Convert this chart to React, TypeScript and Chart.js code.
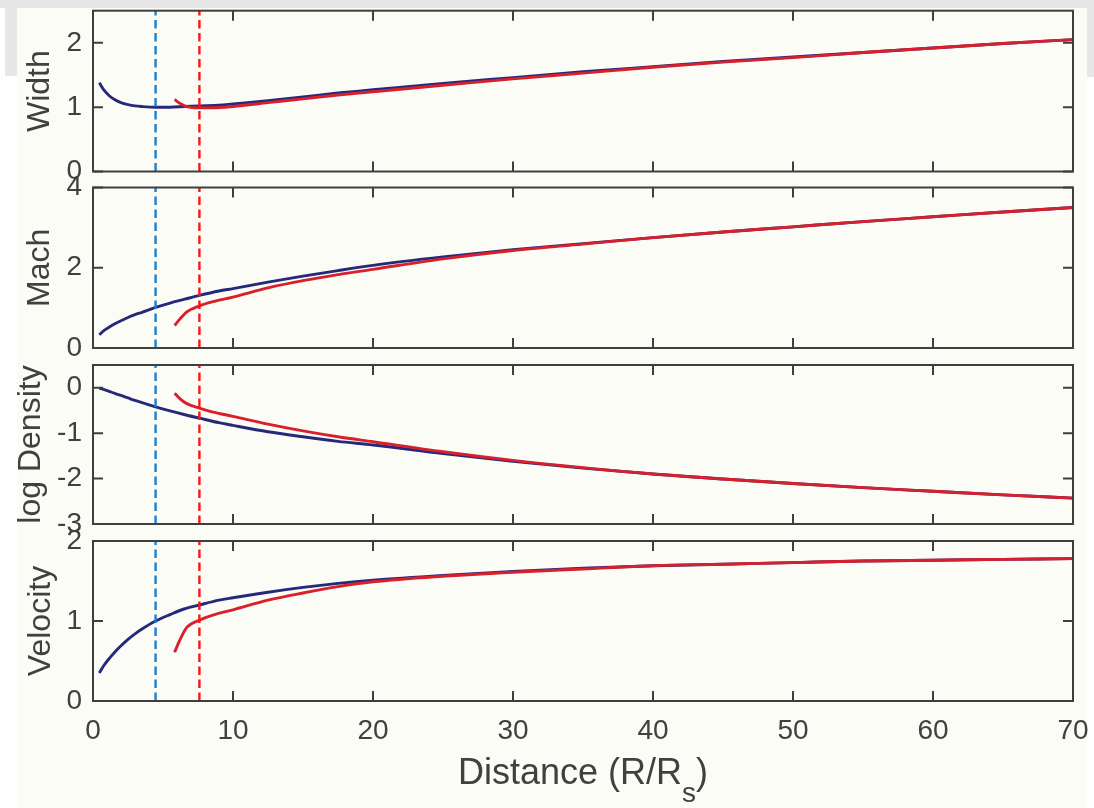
import React, { useEffect, useRef } from "react";
import { Chart, registerables } from "chart.js";

Chart.register(...registerables);

// ---------------- data ----------------
const blueX = [0.45, 0.8, 1.2, 1.6, 2, 2.5, 3, 3.5, 4.47, 5.5, 6.5, 7.6, 9, 10, 12.5, 15, 17.5, 20, 25, 30, 35, 40, 45, 50, 55, 60, 65, 70];
const redX = [5.83, 6.2, 6.7, 7.6, 8.5, 10, 12.5, 15, 17.5, 20, 25, 30, 35, 40, 45, 50, 55, 60, 65, 70];

const widthBlue = [1.38, 1.26, 1.17, 1.11, 1.07, 1.04, 1.02, 1.01, 1.0, 1.0, 1.01, 1.02, 1.03, 1.05, 1.1, 1.16, 1.22, 1.27, 1.37, 1.46, 1.55, 1.63, 1.71, 1.78, 1.85, 1.92, 1.99, 2.05];
const widthRed = [1.12, 1.06, 1.01, 0.99, 0.99, 1.01, 1.07, 1.13, 1.19, 1.24, 1.34, 1.44, 1.53, 1.62, 1.7, 1.77, 1.85, 1.92, 1.99, 2.05];

const machBlue = [0.33, 0.44, 0.53, 0.61, 0.68, 0.76, 0.83, 0.89, 1.01, 1.12, 1.21, 1.31, 1.42, 1.48, 1.64, 1.79, 1.93, 2.06, 2.27, 2.45, 2.6, 2.75, 2.89, 3.02, 3.15, 3.27, 3.39, 3.5];
const machRed = [0.56, 0.72, 0.9, 1.05, 1.15, 1.27, 1.5, 1.68, 1.83, 1.96, 2.22, 2.43, 2.59, 2.75, 2.89, 3.02, 3.15, 3.27, 3.39, 3.5];

const densityBlue = [-0.01, -0.04, -0.085, -0.13, -0.17, -0.225, -0.28, -0.33, -0.42, -0.51, -0.59, -0.67, -0.77, -0.83, -0.97, -1.08, -1.18, -1.26, -1.45, -1.62, -1.77, -1.9, -2.01, -2.11, -2.2, -2.28, -2.36, -2.43];
const densityRed = [-0.12, -0.24, -0.35, -0.45, -0.53, -0.63, -0.8, -0.95, -1.08, -1.19, -1.41, -1.6, -1.76, -1.9, -2.01, -2.11, -2.2, -2.28, -2.36, -2.43];

const velocityBlue = [0.35, 0.45, 0.54, 0.62, 0.69, 0.77, 0.84, 0.9, 1.0, 1.08, 1.15, 1.2, 1.26, 1.29, 1.36, 1.42, 1.47, 1.51, 1.57, 1.62, 1.66, 1.69, 1.71, 1.73, 1.75, 1.76, 1.77, 1.78];
const velocityRed = [0.61, 0.76, 0.92, 1.01, 1.07, 1.14, 1.26, 1.35, 1.43, 1.49, 1.56, 1.61, 1.65, 1.69, 1.71, 1.73, 1.75, 1.76, 1.77, 1.78];

const sonicBlueX = 4.47;
const sonicRedX = 7.6;

const xTicks = [0, 10, 20, 30, 40, 50, 60, 70];
const widthTicks = [0, 1, 2];
const machTicks = [0, 2, 4];
const densityTicks = [-3, -2, -1, 0];
const velocityTicks = [0, 1, 2];

const panelTitles = ["Width", "Mach", "log Density", "Velocity"];
const panelMins = [0, 0, -3, 0];
const panelMaxs = [2.5, 4, 0.5, 2];

// ---------------- style ----------------
const TEXT = "#404040";
const AXIS = "#3e3e3e";
const BLUE = "#25297b";
const RED = "#d8202d";
const BLUE_DASH = "#1a7fcf";
const RED_DASH = "#ff1414";
const FONT = "'Liberation Sans', Arial, Helvetica, sans-serif";
const W = 1094;
const PLOT_LEFT = 93;
const PLOT_RIGHT = 1073;

const panelTops = [10.7, 187.5, 365, 541];
const panelBottoms = [171.5, 348, 524, 701];
const titleOffsets = [21, 21, 12, 22];
const panelTicks = [widthTicks, machTicks, densityTicks, velocityTicks];

const boxPlugin = {
  id: "matlabBox",
  afterDatasetsDraw(chart: any) {
    const { ctx, chartArea: a, scales } = chart;
    const tl = 10;
    ctx.save();
    ctx.strokeStyle = AXIS;
    ctx.lineWidth = 2;
    ctx.beginPath();
    scales.x.ticks.forEach((t: any) => {
      const px = scales.x.getPixelForValue(t.value);
      if (px <= a.left + 1 || px >= a.right - 1) return;
      ctx.moveTo(px, a.bottom);
      ctx.lineTo(px, a.bottom - tl);
      ctx.moveTo(px, a.top);
      ctx.lineTo(px, a.top + tl);
    });
    scales.y.ticks.forEach((t: any) => {
      const py = scales.y.getPixelForValue(t.value);
      ctx.moveTo(a.left, py);
      ctx.lineTo(a.left + tl, py);
      ctx.moveTo(a.right, py);
      ctx.lineTo(a.right - tl, py);
    });
    ctx.stroke();
    ctx.strokeRect(a.left, a.top, a.right - a.left, a.bottom - a.top);
    ctx.restore();
  },
};

const seriesBlue = [widthBlue, machBlue, densityBlue, velocityBlue];
const seriesRed = [widthRed, machRed, densityRed, velocityRed];

function pts(xs: number[], ys: number[]) {
  return xs.map((x, i) => ({ x, y: ys[i] }));
}

function Panel({ idx }: { idx: number }) {
  const ref = useRef<HTMLCanvasElement | null>(null);
  const showX = idx === 3;
  const padTopBase = 30;
  const canvasTop = Math.floor(panelTops[idx]) - padTopBase;
  const padTop = panelTops[idx] - canvasTop;
  const plotH = panelBottoms[idx] - panelTops[idx];
  const xHeight = showX ? 60 : 0;
  const canvasH = Math.ceil(padTop + plotH + xHeight + 30);
  const padBottom = canvasH - (padTop + plotH) - xHeight;

  useEffect(() => {
    if (!ref.current) return;
    const min = panelMins[idx];
    const max = panelMaxs[idx];
    const yt = panelTicks[idx];
    const chart = new Chart(ref.current, {
      type: "line",
      data: {
        datasets: [
          {
            data: [{ x: sonicBlueX, y: min }, { x: sonicBlueX, y: max }],
            borderColor: BLUE_DASH,
            borderWidth: 2.4,
            borderDash: [8.5, 4.5],
            pointRadius: 0,
            order: 1,
          },
          {
            data: [{ x: sonicRedX, y: min }, { x: sonicRedX, y: max }],
            borderColor: RED_DASH,
            borderWidth: 2.4,
            borderDash: [8.5, 4.5],
            pointRadius: 0,
            order: 2,
          },
          {
            data: pts(blueX, seriesBlue[idx]),
            borderColor: BLUE,
            borderWidth: 2.9,
            pointRadius: 0,
            cubicInterpolationMode: "monotone",
            order: 4,
          },
          {
            data: pts(redX, seriesRed[idx]),
            borderColor: RED,
            borderWidth: 2.9,
            pointRadius: 0,
            cubicInterpolationMode: "monotone",
            order: 3,
          },
        ],
      } as any,
      options: {
        animation: false,
        responsive: false,
        events: [],
        layout: {
          padding: { left: 0, right: W - PLOT_RIGHT, top: padTop, bottom: padBottom },
        },
        plugins: { legend: { display: false }, tooltip: { enabled: false } },
        scales: {
          x: {
            type: "linear",
            min: xTicks[0],
            max: xTicks[xTicks.length - 1],
            afterBuildTicks: (s: any) => {
              s.ticks = xTicks.map((v) => ({ value: v }));
            },
            ticks: {
              display: showX,
              padding: 0,
              color: TEXT,
              font: { family: FONT, size: 28 },
            },
            grid: {
              display: true,
              color: "rgba(0,0,0,0)",
              drawOnChartArea: false,
              drawTicks: true,
              tickLength: 13,
            },
            border: { display: false },
            afterFit: (s: any) => {
              s.height = xHeight;
            },
          },
          y: {
            type: "linear",
            min,
            max,
            afterBuildTicks: (s: any) => {
              s.ticks = yt.map((v) => ({ value: v }));
            },
            ticks: {
              padding: 0,
              color: TEXT,
              font: { family: FONT, size: 28 },
            },
            grid: {
              display: true,
              color: "rgba(0,0,0,0)",
              drawOnChartArea: false,
              drawTicks: true,
              tickLength: 11,
            },
            border: { display: false },
            title: {
              display: true,
              text: panelTitles[idx],
              color: TEXT,
              font: { family: FONT, size: 32 },
              padding: { top: titleOffsets[idx], bottom: 0 },
            },
            afterFit: (s: any) => {
              s.width = PLOT_LEFT;
            },
          },
        },
      } as any,
      plugins: [boxPlugin],
    });
    return () => chart.destroy();
  }, []);

  return (
    <canvas
      ref={ref}
      width={W}
      height={canvasH}
      style={{ position: "absolute", left: 0, top: canvasTop, width: W, height: canvasH }}
    />
  );
}

export default function App() {
  return (
    <div style={{ position: "fixed", left: 0, top: 0, width: W, height: 808, background: "#ffffff", overflow: "hidden" }}>
      <div style={{ position: "absolute", left: 17, top: 8, width: 1070, height: 800, background: "#fcfcf6" }} />
      <div style={{ position: "absolute", left: 0, top: 0, width: W, height: 8, background: "#e7e7e7" }} />
      <div style={{ position: "absolute", left: 5, top: 8, width: 12, height: 68, background: "#e7e7e7" }} />
      <div style={{ position: "absolute", left: 1087, top: 8, width: 7, height: 69, background: "#e7e7e7" }} />
      {[0, 1, 2, 3].map((i) => (
        <Panel key={i} idx={i} />
      ))}
      <div
        style={{
          position: "absolute",
          left: PLOT_LEFT,
          width: PLOT_RIGHT - PLOT_LEFT,
          top: 753.5,
          textAlign: "center",
          fontFamily: FONT,
          fontSize: 36,
          lineHeight: "36px",
          color: TEXT,
          whiteSpace: "nowrap",
        }}
      >
        Distance (R/R
        <span style={{ fontSize: 28, position: "relative", top: 18 }}>s</span>)
      </div>
    </div>
  );
}
